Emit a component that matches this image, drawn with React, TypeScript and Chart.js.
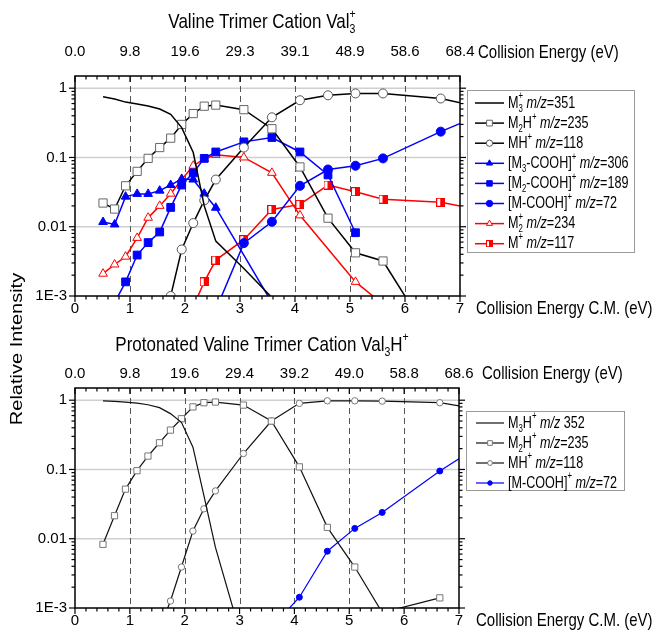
import React, { useEffect, useRef } from 'react';
import { Chart, registerables } from 'chart.js';

Chart.register(...registerables);

// ---------------- DATA ----------------
// centre-of-mass collision energies of the measured points (eV)
const cmEnergy = [0.51, 0.72, 0.92, 1.13, 1.33, 1.54, 1.74, 1.94, 2.15, 2.35, 2.56, 3.07, 3.58, 4.09, 4.6, 5.1, 5.6, 6.65, 7.16];

// upper panel: Valine trimer cation Val3+
const valM3 = [0.75, 0.7, 0.63, 0.59, 0.555, 0.5, 0.42, 0.27, 0.118, 0.02, 0.0062, 0.0025, 0.00095, null, null, null, null, null, null];
const valM2H = [0.022, 0.018, 0.039, 0.063, 0.097, 0.139, 0.19, 0.3, 0.43, 0.55, 0.57, 0.49, 0.26, 0.073, 0.0133, 0.0042, 0.0032, 0.00015, null];
const valMH = [null, null, null, null, null, null, 0.001, 0.0047, 0.0113, 0.024, 0.048, 0.139, 0.38, 0.67, 0.79, 0.84, 0.84, 0.71, 0.58];
const valM3COOH = [0.0117, 0.0108, 0.0272, 0.0298, 0.0298, 0.0332, 0.04, 0.049, 0.048, 0.03, 0.0188, null, 0.0008, null, null, null, null, null, null];
const valM2COOH = [null, 0.0008, 0.0016, 0.0039, 0.0059, 0.0084, 0.019, 0.04, 0.06, 0.097, 0.12, 0.168, 0.194, 0.12, 0.056, 0.0082, null, null, null];
const valMCOOH = [null, null, null, null, null, null, null, null, null, null, 0.00063, 0.0058, 0.0118, 0.039, 0.067, 0.076, 0.097, 0.236, 0.35];
const valM2 = [0.0021, 0.00285, 0.0037, 0.0069, 0.0135, 0.02, 0.03, 0.048, 0.076, 0.095, 0.109, 0.1, 0.06, 0.0146, null, 0.0016, 0.00076, null, null];
const valM1 = [null, null, null, null, null, null, null, null, 0.0007, 0.0016, 0.0033, 0.0065, 0.0177, 0.021, 0.04, 0.032, 0.025, 0.0226, 0.0188];

// lower panel: protonated Valine trimer cation Val3H+
const hM3H = [0.98, 0.96, 0.94, 0.91, 0.86, 0.78, 0.64, 0.48, 0.21, 0.042, 0.0075, 0.0003, null, null, null, null, null, null, null];
const hM2H = [0.0083, 0.0215, 0.052, 0.096, 0.156, 0.243, 0.37, 0.54, 0.8, 0.92, 0.94, 0.85, 0.5, 0.109, 0.0146, 0.0039, 0.00086, 0.0014, null];
const hMH = [null, null, null, null, null, 0.0005, 0.00126, 0.0039, 0.0129, 0.027, 0.049, 0.17, 0.5, 0.9, 0.98, 0.98, 0.97, 0.92, 0.79];
const hMCOOH = [null, null, null, null, null, null, null, null, null, null, null, null, 0.00052, 0.00143, 0.0066, 0.0141, 0.024, 0.095, 0.172];

// axes
const xTickValues = [0, 1, 2, 3, 4, 5, 6, 7];
const xTickLabels = ['0', '1', '2', '3', '4', '5', '6', '7'];
const labTickLabelsTop = ['0.0', '9.8', '19.6', '29.3', '39.1', '48.9', '58.6', '68.4'];
const labTickLabelsBottom = ['0.0', '9.8', '19.6', '29.4', '39.2', '49.0', '58.8', '68.6'];
const xDashedGrid = [1, 2, 3, 4, 5, 6];
const yTickValues = [0.001, 0.01, 0.1, 1];
const yTickLabels = ['1E-3', '0.01', '0.1', '1'];
const yGridValues = [0.01, 0.1, 1];

// text
type Seg = { t?: string; sub?: string; sup?: string; it?: boolean };
const titleTop: Seg[] = [{ t: 'Valine Trimer Cation Val' }, { sub: '3', sup: '+' }];
const titleBottom: Seg[] = [{ t: 'Protonated Valine Trimer Cation Val' }, { sub: '3' }, { t: 'H' }, { sup: '+' }];
const labAxisName = 'Collision Energy (eV)';
const cmAxisName = 'Collision Energy C.M. (eV)';
const yAxisName = 'Relative Intensity';

const lgM3: Seg[] = [{ t: 'M' }, { sub: '3', sup: '+' }, { t: ' ' }, { t: 'm/z', it: true }, { t: '=351' }];
const lgM2H: Seg[] = [{ t: 'M' }, { sub: '2' }, { t: 'H' }, { sup: '+' }, { t: ' ' }, { t: 'm/z', it: true }, { t: '=235' }];
const lgMH: Seg[] = [{ t: 'MH' }, { sup: '+' }, { t: ' ' }, { t: 'm/z', it: true }, { t: '=118' }];
const lgM3COOH: Seg[] = [{ t: '[M' }, { sub: '3' }, { t: '-COOH]' }, { sup: '+' }, { t: ' ' }, { t: 'm/z', it: true }, { t: '=306' }];
const lgM2COOH: Seg[] = [{ t: '[M' }, { sub: '2' }, { t: '-COOH]' }, { sup: '+' }, { t: ' ' }, { t: 'm/z', it: true }, { t: '=189' }];
const lgMCOOH: Seg[] = [{ t: '[M-COOH]' }, { sup: '+' }, { t: ' ' }, { t: 'm/z', it: true }, { t: '=72' }];
const lgM2: Seg[] = [{ t: 'M' }, { sub: '2', sup: '+' }, { t: ' ' }, { t: 'm/z', it: true }, { t: '=234' }];
const lgM1: Seg[] = [{ t: 'M' }, { sup: '+' }, { t: ' ' }, { t: 'm/z', it: true }, { t: '=117' }];
const lgM3H: Seg[] = [{ t: 'M' }, { sub: '3' }, { t: 'H' }, { sup: '+' }, { t: ' ' }, { t: 'm/z', it: true }, { t: ' 352' }];

// ---------------- STYLE ----------------
const FAM = "'Liberation Sans', Arial, Helvetica, sans-serif";
const SX = 0.81;
const BLUE = '#0000ff';
const RED = '#ff0000';

type Marker = 'none' | 'rect' | 'circle' | 'triangle' | 'halfrect';
type SeriesSpec = { values: (number | null)[]; color: string; width: number; marker: Marker; radius: number; fill: string; stroke: string; label: Seg[] };

const topSeries: SeriesSpec[] = [
  { values: valM3, color: '#000', width: 1.5, marker: 'none', radius: 0, fill: '#000', stroke: '#000', label: lgM3 },
  { values: valM2H, color: '#000', width: 1.5, marker: 'rect', radius: 5.8, fill: '#fff', stroke: '#666', label: lgM2H },
  { values: valMH, color: '#000', width: 1.5, marker: 'circle', radius: 4.5, fill: '#fff', stroke: '#555', label: lgMH },
  { values: valM3COOH, color: BLUE, width: 1.5, marker: 'triangle', radius: 5, fill: BLUE, stroke: BLUE, label: lgM3COOH },
  { values: valM2COOH, color: BLUE, width: 1.5, marker: 'rect', radius: 5.5, fill: BLUE, stroke: BLUE, label: lgM2COOH },
  { values: valMCOOH, color: BLUE, width: 1.5, marker: 'circle', radius: 4.5, fill: BLUE, stroke: BLUE, label: lgMCOOH },
  { values: valM2, color: RED, width: 1.5, marker: 'triangle', radius: 5, fill: '#fff', stroke: RED, label: lgM2 },
  { values: valM1, color: RED, width: 1.5, marker: 'halfrect', radius: 4.5, fill: '#fff', stroke: RED, label: lgM1 },
];

const bottomSeries: SeriesSpec[] = [
  { values: hM3H, color: '#111', width: 1.2, marker: 'none', radius: 0, fill: '#000', stroke: '#000', label: lgM3H },
  { values: hM2H, color: '#111', width: 1.2, marker: 'rect', radius: 4.4, fill: '#fff', stroke: '#777', label: lgM2H },
  { values: hMH, color: '#111', width: 1.2, marker: 'circle', radius: 3.2, fill: '#fff', stroke: '#777', label: lgMH },
  { values: hMCOOH, color: BLUE, width: 1.2, marker: 'circle', radius: 3, fill: BLUE, stroke: BLUE, label: lgMCOOH },
];

const topPanel = {
  series: topSeries,
  padding: { top: 0, left: 0, right: 195, bottom: 300 },
  xHeight: 34, x2Height: 76, yWidth: 75,
  xPad: 4, x2Pad: 15, yPad: 8,
  labLabels: labTickLabelsTop,
  title: titleTop, titleY: 22,
  labNameX: 478, labNameY: 53, cmNameY: 309,
  legend: { x: 467, y: 90, w: 167, h: 162, row0: 103, dy: 20.1, l0: 475, l1: 504, tx: 508, font: 17, mscale: 0.7 },
  yTitle: true,
};

const bottomPanel = {
  series: bottomSeries,
  padding: { top: 0, left: 0, right: 196, bottom: 0 },
  xHeight: 22, x2Height: 388, yWidth: 75,
  xPad: 4, x2Pad: 5, yPad: 8,
  labLabels: labTickLabelsBottom,
  title: titleBottom, titleY: 345,
  labNameX: 482, labNameY: 374, cmNameY: 621,
  legend: { x: 466, y: 411, w: 158, h: 79, row0: 423, dy: 20, l0: 476, l1: 504, tx: 508, font: 17, mscale: 0.75 },
  yTitle: false,
};

// ---------------- HELPERS ----------------
function makeHalfSquare(size: number, color: string) {
  const c = document.createElement('canvas');
  c.width = size;
  c.height = size;
  const g = c.getContext('2d')!;
  g.fillStyle = '#fff';
  g.fillRect(0, 0, size, size);
  g.fillStyle = color;
  g.fillRect(Math.floor(size / 2), 0, Math.ceil(size / 2), size);
  g.strokeStyle = color;
  g.lineWidth = 1;
  g.strokeRect(0.5, 0.5, size - 1, size - 1);
  return c;
}

function drawRich(ctx: CanvasRenderingContext2D, segs: Seg[], x: number, y: number, size: number, align: 'left' | 'center', sx: number = SX) {
  ctx.save();
  ctx.translate(x, y);
  ctx.scale(sx, 1);
  ctx.textBaseline = 'middle';
  ctx.textAlign = 'left';
  ctx.fillStyle = '#000';
  const small = size * 0.62;
  const fontOf = (s: Seg) => `${s.it ? 'italic ' : ''}${size}px ${FAM}`;
  const widths = segs.map((s) => {
    if (s.t != null) {
      ctx.font = fontOf(s);
      return ctx.measureText(s.t).width;
    }
    ctx.font = `${small}px ${FAM}`;
    return Math.max(s.sub ? ctx.measureText(s.sub).width : 0, s.sup ? ctx.measureText(s.sup).width : 0);
  });
  const total = widths.reduce((a, b) => a + b, 0);
  let cx = align === 'center' ? -total / 2 : 0;
  segs.forEach((s, i) => {
    if (s.t != null) {
      ctx.font = fontOf(s);
      ctx.fillText(s.t, cx, 0);
    } else {
      ctx.font = `${small}px ${FAM}`;
      if (s.sub) ctx.fillText(s.sub, cx, size * 0.33);
      if (s.sup) ctx.fillText(s.sup, cx, -size * 0.38);
    }
    cx += widths[i];
  });
  ctx.restore();
}

function drawMarker(ctx: CanvasRenderingContext2D, s: SeriesSpec, x: number, y: number, r: number, half: HTMLCanvasElement | null) {
  if (s.marker === 'none') return;
  ctx.save();
  ctx.lineWidth = 1;
  ctx.fillStyle = s.fill;
  ctx.strokeStyle = s.stroke;
  ctx.beginPath();
  if (s.marker === 'rect') {
    const h = r * Math.SQRT1_2;
    ctx.rect(x - h, y - h, 2 * h, 2 * h);
  } else if (s.marker === 'circle') {
    ctx.arc(x, y, r, 0, Math.PI * 2);
  } else if (s.marker === 'triangle') {
    const e = (3 * r) / Math.sqrt(3);
    const hh = (e * Math.sqrt(3)) / 2;
    ctx.moveTo(x - e / 2, y + hh / 3);
    ctx.lineTo(x + e / 2, y + hh / 3);
    ctx.lineTo(x, y - (2 * hh) / 3);
    ctx.closePath();
  } else if (s.marker === 'halfrect' && half) {
    ctx.drawImage(half, x - half.width / 2, y - half.height / 2);
    ctx.restore();
    return;
  }
  ctx.fill();
  ctx.stroke();
  ctx.restore();
}

function line(ctx: CanvasRenderingContext2D, x1: number, y1: number, x2: number, y2: number) {
  ctx.beginPath();
  ctx.moveTo(x1, y1);
  ctx.lineTo(x2, y2);
  ctx.stroke();
}

function buildConfig(p: any, halfBig: HTMLCanvasElement, halfSmall: HTMLCanvasElement): any {
  const datasets = p.series.map((s: SeriesSpec) => ({
    data: cmEnergy.map((x, i) => ({ x, y: s.values[i] })).filter((d) => d.y !== null),
    borderColor: s.color,
    borderWidth: s.width,
    pointStyle: s.marker === 'halfrect' ? halfBig : s.marker === 'none' ? 'circle' : s.marker,
    pointRadius: s.marker === 'none' ? 0 : s.radius,
    pointHoverRadius: s.marker === 'none' ? 0 : s.radius,
    pointBackgroundColor: s.fill,
    pointBorderColor: s.stroke,
    pointBorderWidth: 1,
    fill: false,
    tension: 0,
    clip: 0,
  }));

  const tickFont = { family: FAM, size: 15 };

  const decor = {
    id: 'decor',
    beforeDatasetsDraw(chart: any) {
      const { ctx, chartArea: a, scales } = chart;
      ctx.save();
      ctx.strokeStyle = '#cfcfcf';
      ctx.lineWidth = 1.5;
      yGridValues.forEach((v) => {
        const py = scales.y.getPixelForValue(v);
        line(ctx, a.left, py, a.right, py);
      });
      ctx.strokeStyle = '#555';
      ctx.lineWidth = 1;
      ctx.setLineDash([6, 4]);
      xDashedGrid.forEach((v) => {
        const px = Math.round(scales.x.getPixelForValue(v)) + 0.5;
        line(ctx, px, a.top, px, a.bottom);
      });
      ctx.restore();
    },
    afterDatasetsDraw(chart: any) {
      const { ctx, chartArea: a, scales } = chart;
      ctx.save();
      ctx.strokeStyle = '#000';
      ctx.lineWidth = 1.5;
      ctx.strokeRect(a.left, a.top, a.right - a.left, a.bottom - a.top);
      ctx.lineWidth = 1.2;
      // x ticks: major every 1, minor every 0.2
      for (let k = 0; k <= 35; k++) {
        const major = k % 5 === 0;
        const px = scales.x.getPixelForValue(k / 5);
        const len = major ? 6 : 3.5;
        line(ctx, px, a.bottom, px, a.bottom + len);
        line(ctx, px, a.top, px, a.top + len);
      }
      // y ticks: log minor ticks
      for (let d = -3; d <= 0; d++) {
        for (let m = 1; m <= 9; m++) {
          const v = m * Math.pow(10, d);
          if (v > scales.y.max) continue;
          const py = scales.y.getPixelForValue(v);
          const len = m === 1 ? 6 : 3.5;
          line(ctx, a.left - len, py, a.left, py);
          line(ctx, a.right, py, a.right + len, py);
        }
      }
      ctx.restore();
    },
    afterDraw(chart: any) {
      const { ctx } = chart;
      // title and axis names
      drawRich(ctx, p.title, 262, p.titleY, 21, 'center');
      drawRich(ctx, [{ t: labAxisName }], p.labNameX, p.labNameY, 18.5, 'left');
      drawRich(ctx, [{ t: cmAxisName }], 476, p.cmNameY, 18.5, 'left');
      if (p.yTitle) {
        ctx.save();
        ctx.translate(18, 349);
        ctx.rotate(-Math.PI / 2);
        ctx.scale(1, SX);
        ctx.font = `20px ${FAM}`;
        ctx.fillStyle = '#000';
        ctx.textAlign = 'center';
        ctx.textBaseline = 'middle';
        ctx.fillText(yAxisName, 0, 0);
        ctx.restore();
      }
      // legend
      const L = p.legend;
      ctx.save();
      ctx.fillStyle = '#fff';
      ctx.fillRect(L.x, L.y, L.w, L.h);
      ctx.strokeStyle = '#9a9a9a';
      ctx.lineWidth = 1;
      ctx.strokeRect(L.x + 0.5, L.y + 0.5, L.w, L.h);
      ctx.restore();
      p.series.forEach((s: SeriesSpec, i: number) => {
        const ry = L.row0 + i * L.dy;
        ctx.save();
        ctx.strokeStyle = s.color;
        ctx.lineWidth = s.width;
        line(ctx, L.l0, ry, L.l1, ry);
        ctx.restore();
        drawMarker(ctx, s, (L.l0 + L.l1) / 2, ry, s.radius * L.mscale, halfSmall);
        drawRich(ctx, s.label, L.tx, ry, L.font, 'left', 0.74);
      });
    },
  };

  return {
    type: 'line',
    data: { datasets },
    options: {
      animation: false,
      responsive: false,
      devicePixelRatio: 1,
      events: [],
      layout: { padding: p.padding },
      plugins: { legend: { display: false }, tooltip: { enabled: false }, title: { display: false } },
      scales: {
        x: {
          type: 'linear',
          position: 'bottom',
          min: 0,
          max: 7,
          afterBuildTicks: (s: any) => {
            s.ticks = xTickValues.map((v) => ({ value: v }));
          },
          afterFit: (s: any) => {
            s.height = p.xHeight;
            s.paddingLeft = 0;
            s.paddingRight = 0;
          },
          ticks: {
            autoSkip: false,
            maxRotation: 0,
            padding: p.xPad,
            color: '#000',
            font: tickFont,
            callback: (v: number) => xTickLabels[xTickValues.indexOf(v)] ?? '',
          },
          grid: { display: false, drawTicks: false },
          border: { display: false },
        },
        x2: {
          type: 'linear',
          position: 'top',
          min: 0,
          max: 7,
          afterBuildTicks: (s: any) => {
            s.ticks = xTickValues.map((v) => ({ value: v }));
          },
          afterFit: (s: any) => {
            s.height = p.x2Height;
            s.paddingLeft = 0;
            s.paddingRight = 0;
          },
          ticks: {
            autoSkip: false,
            maxRotation: 0,
            padding: p.x2Pad,
            color: '#000',
            font: tickFont,
            callback: (v: number) => p.labLabels[xTickValues.indexOf(v)] ?? '',
          },
          grid: { display: false, drawTicks: false },
          border: { display: false },
        },
        y: {
          type: 'logarithmic',
          position: 'left',
          min: 0.001,
          max: 1.5,
          afterBuildTicks: (s: any) => {
            s.ticks = yTickValues.map((v) => ({ value: v }));
          },
          afterFit: (s: any) => {
            s.width = p.yWidth;
            s.paddingTop = 0;
            s.paddingBottom = 0;
          },
          ticks: {
            autoSkip: false,
            padding: p.yPad,
            color: '#000',
            font: tickFont,
            callback: (_v: number, i: number) => yTickLabels[i],
          },
          grid: { display: false, drawTicks: false },
          border: { display: false },
        },
      },
    },
    plugins: [decor],
  };
}

export default function App() {
  const topRef = useRef<HTMLCanvasElement>(null);
  const botRef = useRef<HTMLCanvasElement>(null);

  useEffect(() => {
    const halfBig = makeHalfSquare(9, RED);
    const halfSmall = makeHalfSquare(7, RED);
    const c1 = new Chart(topRef.current!, buildConfig(topPanel, halfBig, halfSmall));
    const c2 = new Chart(botRef.current!, buildConfig(bottomPanel, halfBig, halfSmall));
    return () => {
      c1.destroy();
      c2.destroy();
    };
  }, []);

  const cs: React.CSSProperties = { position: 'absolute', left: 0, top: 0, width: 655, height: 630 };
  return (
    <div style={{ position: 'absolute', left: 0, top: 0, width: 655, height: 630, background: '#fff' }}>
      <canvas ref={topRef} width={655} height={630} style={cs} />
      <canvas ref={botRef} width={655} height={630} style={cs} />
    </div>
  );
}
